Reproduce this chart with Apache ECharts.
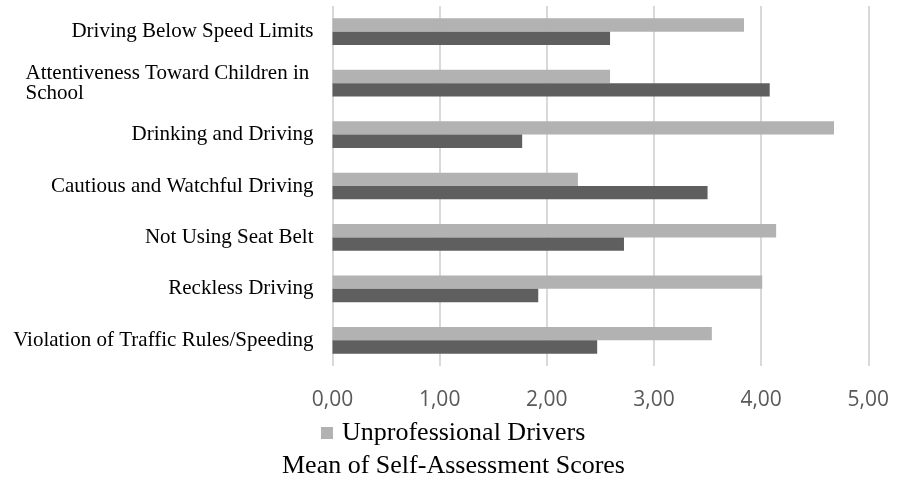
<!DOCTYPE html>
<html>
<head>
<meta charset="utf-8">
<script src="https://cdn.jsdelivr.net/npm/echarts@6/dist/echarts.min.js"></script>
<style>
    html, body { margin: 0; padding: 0; background: #fff; }
    #chart { width: 898px; height: 479px; }
</style>
</head>
<body>
<div id="chart"></div>
<script>
    // categories, top to bottom as in the picture
    var categories = [
        'Driving Below Speed Limits',
        'Attentiveness Toward Children in School',
        'Drinking and Driving',
        'Cautious and Watchful Driving',
        'Not Using Seat Belt',
        'Reckless Driving',
        'Violation of Traffic Rules/Speeding'
    ];
    var unprofessional = [3.84, 2.59, 4.68, 2.29, 4.14, 4.01, 3.54];
    var professional = [2.59, 4.08, 1.77, 3.50, 2.72, 1.92, 2.47];
    var xTicks = [0, 1, 2, 3, 4, 5];

    var serif = '"Liberation Serif", "Times New Roman", serif';

    var chart = echarts.init(document.getElementById('chart'));

    var option = {
        animation: false,
        title: {
            text: 'Mean of Self-Assessment Scores',
            left: 282,
            top: 453,
            padding: 0,
            textStyle: { fontFamily: serif, fontSize: 26, fontWeight: 'normal', color: '#000' }
        },
        legend: {
            data: ['Unprofessional Drivers'],
            left: 321,
            top: 420,
            padding: 0,
            icon: 'rect',
            itemWidth: 12,
            itemHeight: 12,
            itemGap: 10,
            textStyle: { fontFamily: serif, fontSize: 26, color: '#000', padding: [0, 0, 0, 4] }
        },
        grid: { left: 332.5, right: 29.7, top: 6, bottom: 113 },
        xAxis: {
            type: 'value',
            min: xTicks[0],
            max: xTicks[xTicks.length - 1],
            interval: 1,
            axisLine: { show: false },
            axisTick: { show: false },
            splitLine: { lineStyle: { color: '#d9d9d9', width: 2 } },
            axisLabel: {
                margin: 24,
                color: '#595959',
                fontFamily: '"Open Sans", sans-serif',
                fontSize: 21,
                formatter: function (v) { return v.toFixed(2).replace('.', ','); }
            }
        },
        yAxis: {
            type: 'category',
            inverse: true,
            data: categories,
            axisLine: { show: false },
            axisTick: { show: false },
            axisLabel: {
                margin: 19,
                color: '#000',
                fontFamily: serif,
                fontSize: 21,
                lineHeight: 20,
                formatter: function (v) {
                    if (v === 'Attentiveness Toward Children in School') {
                        return '{w|Attentiveness Toward Children in}\n{w|School}';
                    }
                    return v;
                },
                rich: {
                    w: { width: 288, align: 'left', fontFamily: serif, fontSize: 21, lineHeight: 20, color: '#000' }
                }
            }
        },
        series: [
            {
                name: 'Unprofessional Drivers',
                type: 'bar',
                data: unprofessional,
                barGap: '0%',
                barCategoryGap: '48%',
                itemStyle: { color: '#b2b2b2' }
            },
            {
                name: 'Professional Drivers',
                type: 'bar',
                data: professional,
                barGap: '0%',
                barCategoryGap: '48%',
                itemStyle: { color: '#5f5f5f' }
            }
        ]
    };

    chart.setOption(option);
</script>
</body>
</html>
